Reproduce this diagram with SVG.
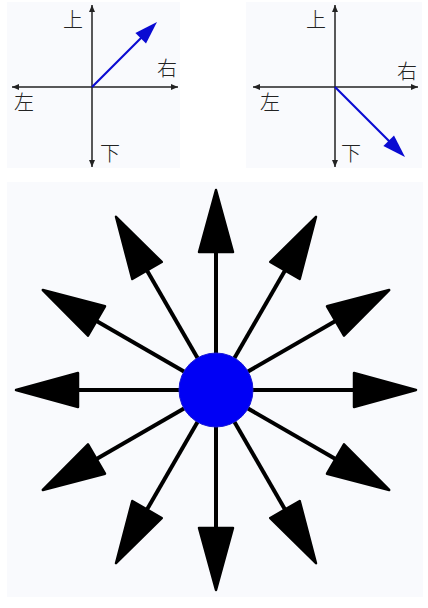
<svg xmlns="http://www.w3.org/2000/svg" width="428" height="608" viewBox="0 0 428 608">
<style>
.panel{fill:#f9fafd}
.axis{stroke:#222;stroke-width:1.5;fill:none;marker-start:url(#ah);marker-end:url(#ah)}
.blue{stroke:#0a0ad2;stroke-width:2.2;fill:none}
.ray{stroke:#000;stroke-width:4;fill:none;marker-end:url(#big)}
.lbl{font-family:"Noto Sans CJK SC","Noto Sans CJK JP",sans-serif;font-size:20px;font-weight:300;fill:#222;text-anchor:middle}
</style>
<defs>
<marker id="ah" viewBox="-1 -4 9 8" refX="7" refY="0" markerWidth="9" markerHeight="8" markerUnits="userSpaceOnUse" orient="auto-start-reverse">
<path d="M0,-3 L7,0 L0,3 Z" fill="#222"/>
</marker>
<marker id="big" viewBox="-3 -21 68 42" refX="0" refY="0" markerWidth="68" markerHeight="42" markerUnits="userSpaceOnUse" orient="auto">
<path d="M0,-17 L62,0 L0,17 Z" fill="#000" stroke="#000" stroke-width="2.5" stroke-linejoin="round"/>
</marker>
</defs>
<rect width="428" height="608" fill="#ffffff"/>
<rect class="panel" x="7" y="2" width="173" height="166"/>
<rect class="panel" x="246" y="2" width="176" height="166"/>
<rect class="panel" x="7" y="182" width="416" height="415"/>

<g id="left-axes">
<line class="axis" x1="92" y1="5" x2="92" y2="167"/>
<line class="axis" x1="12" y1="87" x2="178" y2="87"/>
<line class="blue" x1="92" y1="87" x2="142" y2="37"/>
<polygon points="157,22 146,43.6 135.4,33" fill="#0a0ad2"/>
<text class="lbl" x="73" y="27">上</text>
<text class="lbl" x="167" y="76">右</text>
<text class="lbl" x="24" y="110">左</text>
<text class="lbl" x="110" y="161">下</text>
</g>

<g id="right-axes">
<line class="axis" x1="335" y1="5" x2="335" y2="167"/>
<line class="axis" x1="253" y1="87" x2="418" y2="87"/>
<line class="blue" x1="335" y1="87" x2="390" y2="142"/>
<polygon points="405,157 394,135.4 383.4,146" fill="#0a0ad2"/>
<text class="lbl" x="316" y="27">上</text>
<text class="lbl" x="407" y="79">右</text>
<text class="lbl" x="270" y="110">左</text>
<text class="lbl" x="351" y="161">下</text>
</g>

<g id="connectors">
<line class="ray" x1="216" y1="390" x2="216" y2="252"/>
<line class="ray" x1="216" y1="390" x2="285" y2="270.5"/>
<line class="ray" x1="216" y1="390" x2="335.5" y2="321"/>
<line class="ray" x1="216" y1="390" x2="354" y2="390"/>
<line class="ray" x1="216" y1="390" x2="335.5" y2="459"/>
<line class="ray" x1="216" y1="390" x2="285" y2="509.5"/>
<line class="ray" x1="216" y1="390" x2="216" y2="528"/>
<line class="ray" x1="216" y1="390" x2="147" y2="509.5"/>
<line class="ray" x1="216" y1="390" x2="96.5" y2="459"/>
<line class="ray" x1="216" y1="390" x2="78" y2="390"/>
<line class="ray" x1="216" y1="390" x2="96.5" y2="321"/>
<line class="ray" x1="216" y1="390" x2="147" y2="270.5"/>
</g>

<g id="center">
<circle cx="216" cy="390" r="37" fill="#0000f5" stroke="#1818d8" stroke-width="1"/>
</g>
</svg>
